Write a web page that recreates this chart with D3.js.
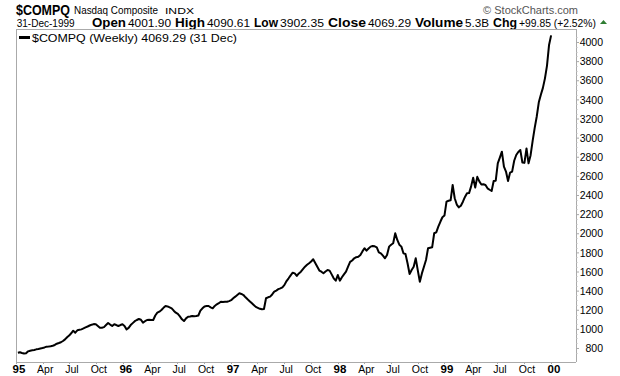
<!DOCTYPE html>
<html><head><meta charset="utf-8">
<script src="https://cdn.jsdelivr.net/npm/d3@7/dist/d3.min.js"></script>
<style>
html,body{margin:0;padding:0;background:#fff;}
svg{display:block;}
text{font-family:"Liberation Sans",Arial,sans-serif;}
</style></head>
<body>
<script>
// ---- data (weekly closes) ----
const firstWeek = "1995-01-06";
const values1995 = [751,755,748,742,745,765,772,776,780,786,790,795,800,806,814,815,818,824,832,845,852,860,873,890,912,930,954,981,960,985,990,995,1005,1016,1025,1035,1044,1050,1048,1030,1012,1012,1018,1040,1061,1045,1030,1048,1040,1030,1040,1048];
const values1996 = [1030,995,1010,1040,1060,1080,1093,1103,1095,1065,1080,1093,1095,1093,1093,1140,1169,1180,1197,1220,1239,1235,1225,1215,1190,1169,1156,1130,1100,1082,1110,1127,1130,1135,1133,1135,1140,1190,1215,1235,1239,1239,1225,1215,1240,1257,1270,1284,1282,1284,1284,1290];
const values1997 = [1300,1320,1337,1355,1372,1365,1354,1330,1309,1290,1270,1250,1230,1220,1210,1205,1208,1320,1330,1337,1360,1389,1400,1415,1424,1435,1460,1500,1529,1560,1588,1580,1553,1580,1598,1625,1650,1670,1686,1705,1728,1690,1650,1610,1598,1581,1600,1616,1609,1570,1529,1504];
const values1998 = [1563,1504,1540,1570,1598,1650,1700,1715,1738,1750,1755,1773,1810,1843,1818,1840,1860,1867,1863,1853,1800,1790,1765,1738,1773,1860,1880,1895,2000,1930,1880,1860,1790,1783,1686,1574,1616,1650,1738,1611,1493,1580,1650,1720,1843,1848,1853,2000,2010,2069,2120,2167];
const values1999 = [2185,2330,2340,2345,2505,2366,2300,2271,2288,2330,2380,2418,2420,2490,2581,2477,2590,2542,2510,2512,2505,2470,2455,2442,2546,2550,2731,2790,2853,2696,2645,2546,2634,2645,2758,2818,2850,2870,2740,2736,2887,2731,2816,2966,3102,3221,3369,3448,3520,3620,3753,3969,4069];
const yTicks = [800,1000,1200,1400,1600,1800,2000,2200,2400,2600,2800,3000,3200,3400,3600,3800,4000];
const monthLabels = ["Apr","Jul","Oct"];
const yearLabels = ["95","96","97","98","99","00"];

const closes = [].concat(values1995, values1996, values1997, values1998, values1999);
const start = d3.timeParse("%Y-%m-%d")(firstWeek);
const series = closes.map((v,i)=>({date:d3.timeDay.offset(start, 7*i), value:v}));

const W=620,H=376;
const L=16, R=576, T=29, B=362;
const svg = d3.select("body").append("svg").attr("width",W).attr("height",H);

const x = d3.scaleTime().domain([new Date(1995,0,1), new Date(2000,0,1)]).range([16.4, 551.4]);
const y = d3.scaleLinear().domain([800,4000]).range([348,42]);

// header line 1
const hdr = svg.append("g");
hdr.append("text").attr("x",16).attr("y",14.5)
  .attr("font-family","'Liberation Sans Narrow','Arial Narrow','Liberation Sans',sans-serif")
  .attr("font-weight","bold").attr("font-size",14).attr("textLength",54).attr("lengthAdjust","spacingAndGlyphs")
  .text("$COMPQ");
hdr.append("text").attr("x",74).attr("y",14).attr("font-size",10.5).attr("textLength",84).attr("lengthAdjust","spacingAndGlyphs").text("Nasdaq Composite");
hdr.append("text").attr("x",165).attr("y",14).attr("font-size",9).attr("font-family","'DejaVu Sans',sans-serif").attr("textLength",29).attr("lengthAdjust","spacingAndGlyphs").text("INDX");
hdr.append("text").attr("x",578).attr("y",14).attr("text-anchor","end").attr("font-size",11).attr("fill","#555").text("\u00A9 StockCharts.com");

// header line 2
const line2 = [
  {t:"31-Dec-1999", x:16.7, w:58, b:false},
  {t:"Open", x:92, w:34, b:true},
  {t:"4001.90", x:128, w:43, b:false},
  {t:"High", x:175, w:30, b:true},
  {t:"4090.61", x:207, w:43, b:false},
  {t:"Low", x:254, w:24, b:true},
  {t:"3902.35", x:280, w:44, b:false},
  {t:"Close", x:328, w:38, b:true},
  {t:"4069.29", x:368, w:43, b:false},
  {t:"Volume", x:415, w:48, b:true},
  {t:"5.3B", x:465, w:24, b:false},
  {t:"Chg", x:493, w:24, b:true},
  {t:"+99.85 (+2.52%)", x:519, w:77, b:false}
];
hdr.selectAll("text.l2").data(line2).enter().append("text").attr("class","l2")
  .attr("x",d=>d.x).attr("y",27)
  .attr("font-size",d=>d.b?12:11)
  .attr("font-weight",d=>d.b?"bold":"normal")
  .attr("font-family",d=>d.b?"'Liberation Sans Narrow','Arial Narrow','Liberation Sans',sans-serif":"'Liberation Sans',Arial,sans-serif")
  .attr("textLength",d=>d.w).attr("lengthAdjust","spacingAndGlyphs")
  .text(d=>d.t);
hdr.append("path").attr("d","M600,24 L603.5,20 L607,24 Z").attr("fill","#2e7d32");

// plot frame
svg.append("path").attr("d",`M${R},${T} L${L},${T} L${L},${B} L${R},${B}`)
  .attr("fill","none").attr("stroke","#aaa").attr("stroke-width",1).attr("shape-rendering","crispEdges");
svg.append("line").attr("x1",R).attr("x2",R).attr("y1",T).attr("y2",B)
  .attr("stroke","#aaa").attr("shape-rendering","crispEdges");

// right axis
const yAxis = d3.axisRight(y).tickValues(yTicks).tickSize(3).tickPadding(0).tickFormat(d3.format("d"));
const ya = svg.append("g").attr("transform",`translate(${R},0)`).call(yAxis);
ya.select(".domain").remove();
ya.selectAll(".tick line").attr("stroke","#aaa");
ya.selectAll(".tick text").attr("x",27).attr("text-anchor","end").attr("font-size",10.5)
  .attr("font-family","'Liberation Sans',Arial,sans-serif").attr("fill","#000").attr("dy","0.35em");
const minor = d3.range(750,4100,50).filter(v=>v%200!==0);
svg.append("g").selectAll("line").data(minor).enter().append("line")
  .attr("x1",R).attr("x2",R+1.5).attr("y1",d=>Math.round(y(d))+0.5).attr("y2",d=>Math.round(y(d))+0.5)
  .attr("stroke","#bbb");

// bottom axis labels
const tickDates = d3.timeMonth.every(3).range(new Date(1995,0,1), new Date(2000,0,2));
const xa = svg.append("g");
xa.selectAll("text").data(tickDates).enter().append("text")
  .attr("x",d=>x(d)+2.5).attr("y",373).attr("text-anchor","middle")
  .attr("font-size",d=>d.getMonth()===0?11.5:10.5)
  .attr("font-weight",d=>d.getMonth()===0?"bold":"normal")
  .attr("font-family",d=>d.getMonth()===0?"'Liberation Sans Narrow','Arial Narrow','Liberation Sans',sans-serif":"'Liberation Sans',Arial,sans-serif")
  .text(d=>d.getMonth()===0?yearLabels[d.getFullYear()-1995]:monthLabels[d.getMonth()/3-1]);
xa.selectAll("line").data(d3.timeMonth.range(new Date(1995,0,1), new Date(2000,0,2))).enter().append("line")
  .attr("x1",d=>Math.round(x(d))+0.5).attr("x2",d=>Math.round(x(d))+0.5)
  .attr("y1",B).attr("y2",d=>d.getMonth()%3===0?B+2:B+1).attr("stroke","#aaa");

// price line
const line = d3.line().x(d=>x(d.date)).y(d=>y(d.value)).curve(d3.curveLinear);
svg.append("path").datum(series).attr("d",line).attr("fill","none")
  .attr("stroke","#000").attr("stroke-width",2).attr("stroke-linejoin","round");

// legend
svg.append("line").attr("x1",19).attr("x2",30).attr("y1",37.5).attr("y2",37.5).attr("stroke","#000").attr("stroke-width",3);
svg.append("text").attr("x",32).attr("y",42).attr("font-size",11)
  .attr("font-family","'DejaVu Sans',Verdana,sans-serif").attr("textLength",205).attr("lengthAdjust","spacingAndGlyphs")
  .text("$COMPQ (Weekly) 4069.29 (31 Dec)");
</script>
</body></html>
